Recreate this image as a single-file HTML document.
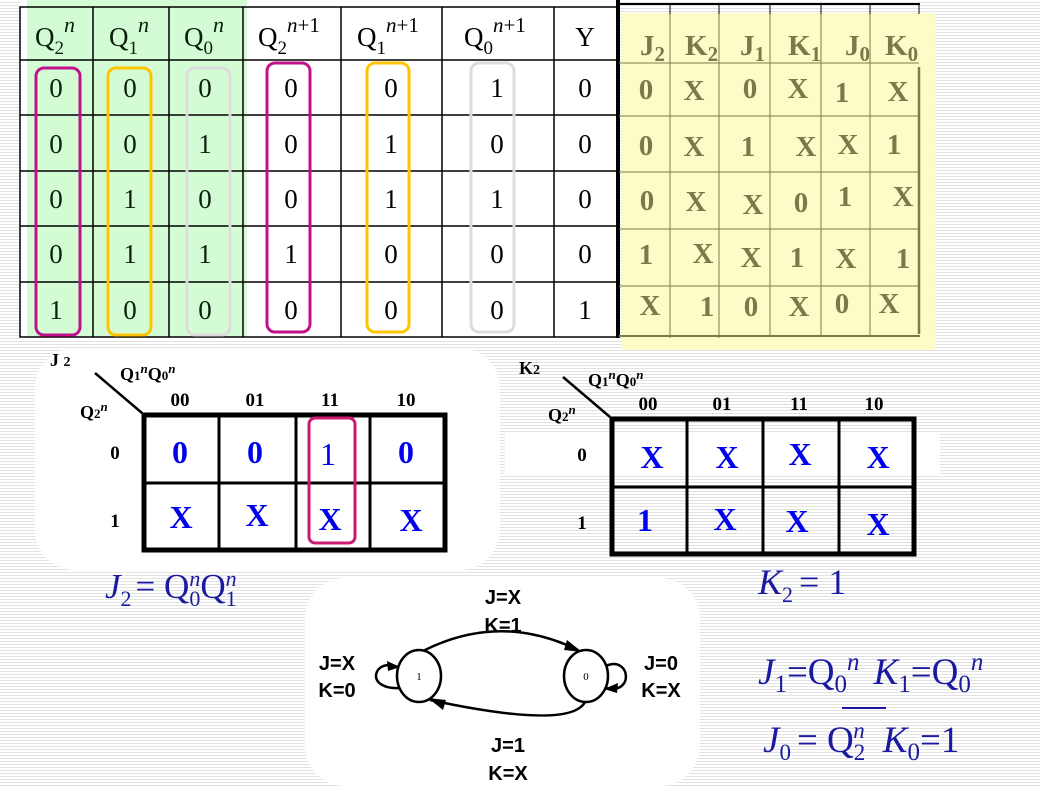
<!DOCTYPE html>
<html><head><meta charset="utf-8"><style>
html,body{margin:0;padding:0}
body{width:1040px;height:786px;overflow:hidden;background:repeating-linear-gradient(#fff 0 2px,#e2e2e2 2px 3px)}
svg{position:absolute;left:0;top:0}
.s{font-family:"Liberation Serif",serif}
.h{font-family:"Liberation Sans",sans-serif;font-weight:bold}
</style></head><body>
<svg width="1040" height="786" viewBox="0 0 1040 786">
<rect x="20" y="0" width="600" height="340" fill="#fff"/>
<rect x="35" y="348" width="465" height="222" rx="40" fill="#fff"/>
<rect x="505" y="432" width="435" height="42" fill="#fff"/>
<rect x="305" y="578" width="395" height="208" rx="40" fill="#fff"/>
<rect x="27" y="0" width="220" height="337" fill="#d4fcd4"/>
<g stroke="#000" stroke-width="1.5" fill="none">
<rect x="20" y="7" width="598" height="330"/>
<line x1="20" y1="60" x2="618" y2="60"/><line x1="20" y1="115" x2="618" y2="115"/>
<line x1="20" y1="171" x2="618" y2="171"/><line x1="20" y1="226" x2="618" y2="226"/>
<line x1="20" y1="282" x2="618" y2="282"/>
<line x1="93" y1="7" x2="93" y2="337"/><line x1="169" y1="7" x2="169" y2="337"/>
<line x1="243" y1="7" x2="243" y2="337"/><line x1="341" y1="7" x2="341" y2="337"/>
<line x1="442" y1="7" x2="442" y2="337"/><line x1="554" y1="7" x2="554" y2="337"/>
</g>
<line x1="618" y1="0" x2="618" y2="338" stroke="#000" stroke-width="4"/>
<g fill="none" stroke-width="3">
<rect x="36" y="68" width="44" height="267" rx="8" stroke="#c0108c"/>
<rect x="108" y="68" width="43" height="267" rx="8" stroke="#ffc400"/>
<rect x="187" y="68" width="43" height="267" rx="8" stroke="#dcdcdc"/>
<rect x="267" y="63" width="43" height="269" rx="8" stroke="#c0108c"/>
<rect x="367" y="63" width="42" height="269" rx="8" stroke="#ffc400"/>
<rect x="471" y="63" width="43" height="269" rx="8" stroke="#dcdcdc"/>
</g>
<g class="s" font-size="27" fill="#0a200a">
<text x="35" y="46">Q<tspan font-size="19" dy="8">2</tspan><tspan font-size="22" font-style="italic" dy="-22">n</tspan></text>
<text x="109" y="46">Q<tspan font-size="19" dy="8">1</tspan><tspan font-size="22" font-style="italic" dy="-22">n</tspan></text>
<text x="184" y="46">Q<tspan font-size="19" dy="8">0</tspan><tspan font-size="22" font-style="italic" dy="-22">n</tspan></text>
<text x="258" y="46" fill="#000">Q<tspan font-size="19" dy="8">2</tspan><tspan font-size="21" dy="-22"><tspan font-style="italic">n</tspan>+1</tspan></text>
<text x="357" y="46" fill="#000">Q<tspan font-size="19" dy="8">1</tspan><tspan font-size="21" dy="-22"><tspan font-style="italic">n</tspan>+1</tspan></text>
<text x="464" y="46" fill="#000">Q<tspan font-size="19" dy="8">0</tspan><tspan font-size="21" dy="-22"><tspan font-style="italic">n</tspan>+1</tspan></text>
<text x="585" y="46" text-anchor="middle" fill="#000">Y</text>
</g>
<g class="s" font-size="27" text-anchor="middle">
<g fill="#0a200a">
<text x="56" y="97">0</text><text x="130" y="97">0</text><text x="205" y="97">0</text>
<text x="56" y="153">0</text><text x="130" y="153">0</text><text x="205" y="153">1</text>
<text x="56" y="208">0</text><text x="130" y="208">1</text><text x="205" y="208">0</text>
<text x="56" y="263">0</text><text x="130" y="263">1</text><text x="205" y="263">1</text>
<text x="56" y="319">1</text><text x="130" y="319">0</text><text x="205" y="319">0</text>
</g>
<text x="291" y="97">0</text><text x="391" y="97">0</text><text x="497" y="97">1</text><text x="585" y="97">0</text>
<text x="291" y="153">0</text><text x="391" y="153">1</text><text x="497" y="153">0</text><text x="585" y="153">0</text>
<text x="291" y="208">0</text><text x="391" y="208">1</text><text x="497" y="208">1</text><text x="585" y="208">0</text>
<text x="291" y="263">1</text><text x="391" y="263">0</text><text x="497" y="263">0</text><text x="585" y="263">0</text>
<text x="291" y="319">0</text><text x="391" y="319">0</text><text x="497" y="319">0</text><text x="585" y="319">1</text>
</g>
<rect x="622" y="13" width="313" height="337" fill="#fdfcc8"/>
<line x1="618" y1="4" x2="920" y2="4" stroke="#000" stroke-width="2"/>
<g stroke="#000" stroke-width="1"><line x1="670" y1="4" x2="670" y2="14"/><line x1="719" y1="4" x2="719" y2="14"/><line x1="770" y1="4" x2="770" y2="14"/><line x1="821" y1="4" x2="821" y2="14"/><line x1="870" y1="4" x2="870" y2="14"/><line x1="919" y1="4" x2="919" y2="14"/></g>
<g stroke="#7f7a4a" stroke-width="1">
<line x1="670" y1="14" x2="670" y2="338"/><line x1="719" y1="14" x2="719" y2="338"/><line x1="770" y1="14" x2="770" y2="336"/>
<line x1="821" y1="14" x2="821" y2="336"/><line x1="870" y1="14" x2="870" y2="336"/>
<line x1="619" y1="63" x2="919" y2="63"/><line x1="619" y1="116" x2="919" y2="116"/><line x1="619" y1="172" x2="919" y2="172"/>
<line x1="619" y1="229" x2="919" y2="229"/><line x1="619" y1="286" x2="919" y2="286"/>
</g>
<line x1="619" y1="336" x2="920" y2="336" stroke="#7f7a4a" stroke-width="2"/>
<line x1="919" y1="67" x2="919" y2="334" stroke="#7f7a4a" stroke-width="2.5"/>
<g class="s" font-weight="bold" font-size="29" fill="#7d7848">
<text x="640" y="55">J<tspan font-size="21" dy="6">2</tspan></text>
<text x="685" y="55">K<tspan font-size="21" dy="6">2</tspan></text>
<text x="740" y="55">J<tspan font-size="21" dy="6">1</tspan></text>
<text x="788" y="55">K<tspan font-size="21" dy="6">1</tspan></text>
<text x="845" y="55">J<tspan font-size="21" dy="6">0</tspan></text>
<text x="885" y="55">K<tspan font-size="21" dy="6">0</tspan></text>
<g text-anchor="middle">
<text x="646" y="99">0</text><text x="694" y="100">X</text><text x="750" y="98">0</text><text x="798" y="98">X</text><text x="842" y="102">1</text><text x="898" y="101">X</text>
<text x="646" y="155">0</text><text x="694" y="156">X</text><text x="748" y="156">1</text><text x="806" y="156">X</text><text x="848" y="154">X</text><text x="894" y="154">1</text>
<text x="647" y="210">0</text><text x="696" y="211">X</text><text x="753" y="214">X</text><text x="801" y="212">0</text><text x="845" y="206">1</text><text x="903" y="206">X</text>
<text x="646" y="264">1</text><text x="703" y="263">X</text><text x="751" y="267">X</text><text x="797" y="267">1</text><text x="846" y="268">X</text><text x="903" y="268">1</text>
<text x="650" y="315">X</text><text x="707" y="316">1</text><text x="751" y="316">0</text><text x="799" y="316">X</text><text x="842" y="313">0</text><text x="889" y="313">X</text>
</g>
</g>
<line x1="95" y1="373" x2="142" y2="413" stroke="#000" stroke-width="2.5"/>
<g stroke="#000" fill="none">
<rect x="144" y="415" width="301" height="135" stroke-width="5"/>
<line x1="219" y1="415" x2="219" y2="550" stroke-width="3"/><line x1="296" y1="415" x2="296" y2="550" stroke-width="3"/>
<line x1="370" y1="415" x2="370" y2="550" stroke-width="3"/><line x1="144" y1="483" x2="445" y2="483" stroke-width="3"/>
</g>
<rect x="309" y="418" width="46" height="125" rx="6" fill="none" stroke="#cc1a73" stroke-width="3"/>
<g class="s" font-weight="bold" fill="#000">
<text x="50" y="366" font-size="18">J <tspan font-size="14">2</tspan></text>
<text x="120" y="380" font-size="18">Q<tspan font-size="13">1</tspan><tspan font-size="13" font-style="italic" dy="-7">n</tspan><tspan dy="7">Q</tspan><tspan font-size="13">0</tspan><tspan font-size="13" font-style="italic" dy="-7">n</tspan></text>
<text x="80" y="418" font-size="18">Q<tspan font-size="13">2</tspan><tspan font-size="13" font-style="italic" dy="-7">n</tspan></text>
<g font-size="19" text-anchor="middle"><text x="180" y="406">00</text><text x="255" y="406">01</text><text x="330" y="406">11</text><text x="406" y="406">10</text>
<text x="115" y="459">0</text><text x="115" y="527">1</text></g>
</g>
<g class="s" font-weight="bold" fill="#0000ee" font-size="32" text-anchor="middle">
<text x="180" y="463">0</text><text x="255" y="463">0</text><text x="328" y="465" font-weight="normal">1</text><text x="406" y="463">0</text>
<text x="181" y="528">X</text><text x="257" y="526">X</text><text x="330" y="530">X</text><text x="411" y="531">X</text>
</g>
<text class="s" x="105" y="598" font-size="35" fill="#1a1aa0"><tspan font-style="italic">J</tspan><tspan font-size="22" dy="8">2</tspan><tspan dy="-8" dx="4">= Q</tspan><tspan font-size="22" dy="8">0</tspan><tspan font-size="22" font-style="italic" dx="-11" dy="-20">n</tspan><tspan dy="12">Q</tspan><tspan font-size="22" dy="8">1</tspan><tspan font-size="22" font-style="italic" dx="-11" dy="-20">n</tspan></text>
<line x1="563" y1="377" x2="610" y2="417" stroke="#000" stroke-width="2.5"/>
<g stroke="#000" fill="none">
<rect x="612" y="419" width="302" height="135" stroke-width="5"/>
<line x1="687" y1="419" x2="687" y2="554" stroke-width="3"/><line x1="763" y1="419" x2="763" y2="554" stroke-width="3"/>
<line x1="839" y1="419" x2="839" y2="554" stroke-width="3"/><line x1="612" y1="487" x2="914" y2="487" stroke-width="3"/>
</g>
<g class="s" font-weight="bold" fill="#000">
<text x="519" y="374" font-size="18">K<tspan font-size="14">2</tspan></text>
<text x="588" y="386" font-size="18">Q<tspan font-size="13">1</tspan><tspan font-size="13" font-style="italic" dy="-7">n</tspan><tspan dy="7">Q</tspan><tspan font-size="13">0</tspan><tspan font-size="13" font-style="italic" dy="-7">n</tspan></text>
<text x="548" y="421" font-size="18">Q<tspan font-size="13">2</tspan><tspan font-size="13" font-style="italic" dy="-7">n</tspan></text>
<g font-size="19" text-anchor="middle"><text x="648" y="410">00</text><text x="722" y="410">01</text><text x="799" y="410">11</text><text x="874" y="410">10</text>
<text x="582" y="461">0</text><text x="582" y="529">1</text></g>
</g>
<g class="s" font-weight="bold" fill="#0000ee" font-size="32" text-anchor="middle">
<text x="652" y="468">X</text><text x="727" y="468">X</text><text x="800" y="465">X</text><text x="878" y="468">X</text>
<text x="645" y="531">1</text><text x="725" y="530">X</text><text x="797" y="532">X</text><text x="878" y="535">X</text>
</g>
<text class="s" x="758" y="594" font-size="36" fill="#1a1aa0"><tspan font-style="italic">K</tspan><tspan font-size="22" dy="8">2</tspan><tspan dy="-8" dx="6">= 1</tspan></text>
<g fill="none" stroke="#000" stroke-width="2.5">
<ellipse cx="419" cy="676" rx="22" ry="26"/>
<ellipse cx="586" cy="676" rx="22" ry="26"/>
<path d="M423 651 Q500 612 578 650"/>
<path d="M585 702 Q570 730 430 700"/>
<path d="M399 668 C375 655 362 690 400 688"/>
<path d="M606 666 C630 655 635 695 606 688"/>
</g>
<g fill="#000">
<polygon points="582,652 567,640 564,650"/>
<polygon points="428,698 443,710 446,700"/>
<polygon points="400,667 387,661 388,671"/>
<polygon points="604,689 618,683 617,693"/>
</g>
<text x="419" y="680" font-size="11" text-anchor="middle" fill="#000" class="s">1</text>
<text x="586" y="680" font-size="11" text-anchor="middle" fill="#000" class="s">0</text>
<g class="h" font-size="20" fill="#000" text-anchor="middle">
<text x="503" y="604">J=X</text><text x="503" y="632">K=1</text>
<text x="337" y="670">J=X</text><text x="337" y="697">K=0</text>
<text x="661" y="670">J=0</text><text x="661" y="697">K=X</text>
<text x="508" y="752">J=1</text><text x="508" y="780">K=X</text>
</g>
<g class="s" font-size="37" fill="#1a1aa0">
<text x="758" y="684"><tspan font-style="italic">J</tspan><tspan font-size="25" dy="8">1</tspan><tspan dy="-8">=Q</tspan><tspan font-size="25" dy="8">0</tspan><tspan font-size="25" font-style="italic" dy="-22">n</tspan><tspan dx="14" dy="14" font-style="italic">K</tspan><tspan font-size="25" dy="8">1</tspan><tspan dy="-8">=Q</tspan><tspan font-size="25" dy="8">0</tspan><tspan font-size="25" font-style="italic" dy="-22">n</tspan></text>
<text x="763" y="752"><tspan font-style="italic">J</tspan><tspan font-size="23" dy="8">0</tspan><tspan dy="-8" dx="6">= Q</tspan><tspan font-size="23" dy="8">2</tspan><tspan font-size="23" font-style="italic" dx="-12" dy="-22">n</tspan><tspan dx="18" dy="14" font-style="italic">K</tspan><tspan font-size="25" dy="8">0</tspan><tspan dy="-8">=1</tspan></text>
</g>
<line x1="842" y1="708" x2="886" y2="708" stroke="#1a1aa0" stroke-width="2"/>
</svg>
</body></html>
